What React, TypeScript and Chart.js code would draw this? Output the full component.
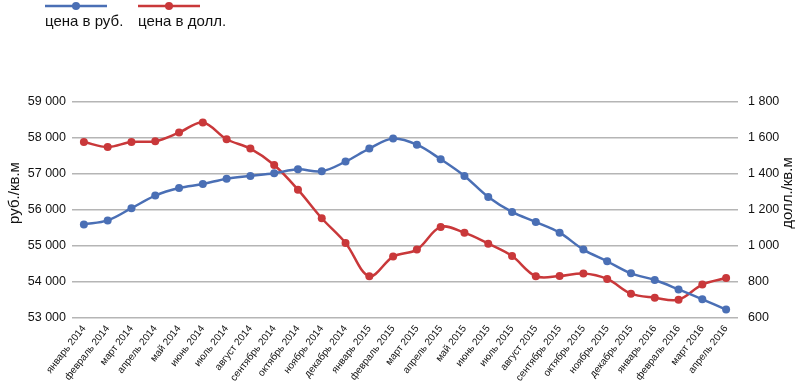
import React, { useEffect, useRef } from "react";
import { Chart, registerables } from "chart.js";

Chart.register(...registerables);

const categories = [
  "январь 2014", "февраль 2014", "март 2014", "апрель 2014", "май 2014", "июнь 2014",
  "июль 2014", "август 2014", "сентябрь 2014", "октябрь 2014", "ноябрь 2014", "декабрь 2014",
  "январь 2015", "февраль 2015", "март 2015", "апрель 2015", "май 2015", "июнь 2015",
  "июль 2015", "август 2015", "сентябрь 2015", "октябрь 2015", "ноябрь 2015", "декабрь 2015",
  "январь 2016", "февраль 2016", "март 2016", "апрель 2016",
];

const rubPrices = [
  55600, 55710, 56050, 56400, 56610, 56720, 56870, 56945, 57020, 57130, 57075, 57345,
  57705, 57985, 57815, 57410, 56945, 56360, 55945, 55665, 55370, 54900, 54575, 54240,
  54055, 53795, 53520, 53235,
];

const usdPrices = [
  1578, 1550, 1578, 1582, 1630, 1686, 1593, 1541, 1450, 1313, 1154, 1017,
  832, 941, 980, 1106, 1074, 1013, 944, 832, 833, 847, 817, 735,
  713, 702, 786, 822,
];

const seriesNames = ["цена в руб.", "цена в долл."];
const leftTitle = "руб./кв.м";
const rightTitle = "долл./кв.м";

const BLUE = "#4a6fb5";
const RED = "#c9383a";
const FONT = "'Liberation Sans', Arial, sans-serif";

const fmt = (v: number) => String(Math.round(v)).replace(/\B(?=(\d{3})+(?!\d))/g, " ");

const decorPlugin = {
  id: "decor",
  afterDraw(chart: any) {
    const ctx = chart.ctx;
    ctx.save();
    const items = [
      { x: 45, color: BLUE, label: seriesNames[0] },
      { x: 138, color: RED, label: seriesNames[1] },
    ];
    items.forEach((it) => {
      ctx.strokeStyle = it.color;
      ctx.lineWidth = 2.5;
      ctx.beginPath();
      ctx.moveTo(it.x, 6);
      ctx.lineTo(it.x + 62, 6);
      ctx.stroke();
      ctx.fillStyle = it.color;
      ctx.beginPath();
      ctx.arc(it.x + 31, 6, 4, 0, Math.PI * 2);
      ctx.fill();
      ctx.fillStyle = "#111";
      ctx.font = `15px ${FONT}`;
      ctx.textAlign = "left";
      ctx.textBaseline = "middle";
      ctx.fillText(it.label, it.x, 22);
    });
    const cy = 193;
    ctx.font = `15px ${FONT}`;
    ctx.fillStyle = "#111";
    ctx.textAlign = "center";
    ctx.textBaseline = "middle";
    ctx.save();
    ctx.translate(15, cy);
    ctx.rotate(-Math.PI / 2);
    ctx.fillText(leftTitle, 0, 0);
    ctx.restore();
    ctx.save();
    ctx.translate(788, cy);
    ctx.rotate(-Math.PI / 2);
    ctx.fillText(rightTitle, 0, 0);
    ctx.restore();
    ctx.restore();
  },
};

export default function App() {
  const ref = useRef<HTMLCanvasElement>(null);
  useEffect(() => {
    document.body.style.margin = "0";
    const chart = new Chart(ref.current!, {
      type: "line",
      data: {
        labels: categories,
        datasets: [
          {
            label: seriesNames[0],
            data: rubPrices,
            yAxisID: "y",
            borderColor: BLUE,
            backgroundColor: BLUE,
            borderWidth: 2.5,
            pointRadius: 4,
            pointBorderWidth: 0,
            tension: 0.35,
          },
          {
            label: seriesNames[1],
            data: usdPrices,
            yAxisID: "y1",
            borderColor: RED,
            backgroundColor: RED,
            borderWidth: 2.5,
            pointRadius: 4,
            pointBorderWidth: 0,
            tension: 0.35,
          },
        ],
      },
      options: {
        animation: false,
        responsive: false,
        maintainAspectRatio: false,
        layout: { padding: { top: 102, left: 0, right: 0, bottom: 0 } },
        plugins: { legend: { display: false }, tooltip: { enabled: false } },
        scales: {
          x: {
            offset: true,
            grid: { display: false, drawTicks: false },
            border: { display: false },
            ticks: {
              autoSkip: false,
              minRotation: 52,
              maxRotation: 52,
              padding: 5,
              color: "#111",
              font: { family: FONT, size: 10 },
            },
            afterFit: (s: any) => { s.height = 70; },
          },
          y: {
            position: "left",
            min: 53000,
            max: 59000,
            ticks: {
              stepSize: 1000,
              padding: 6,
              color: "#111",
              font: { family: FONT, size: 12.5 },
              callback: (v: any) => fmt(Number(v)),
            },
            grid: { color: "#b5b5b5", lineWidth: 1.5, drawTicks: false },
            border: { display: false },
            afterFit: (s: any) => { s.width = 72; },
          },
          y1: {
            position: "right",
            min: 600,
            max: 1800,
            ticks: {
              stepSize: 200,
              padding: 10,
              color: "#111",
              font: { family: FONT, size: 12.5 },
              callback: (v: any) => fmt(Number(v)),
            },
            grid: { drawOnChartArea: false, drawTicks: false },
            border: { display: false },
            afterFit: (s: any) => { s.width = 67; },
          },
        },
      },
      plugins: [decorPlugin],
    });
    return () => chart.destroy();
  }, []);
  return (
    <div style={{ width: 805, height: 388 }}>
      <canvas ref={ref} width={805} height={388} style={{ display: "block" }} />
    </div>
  );
}
